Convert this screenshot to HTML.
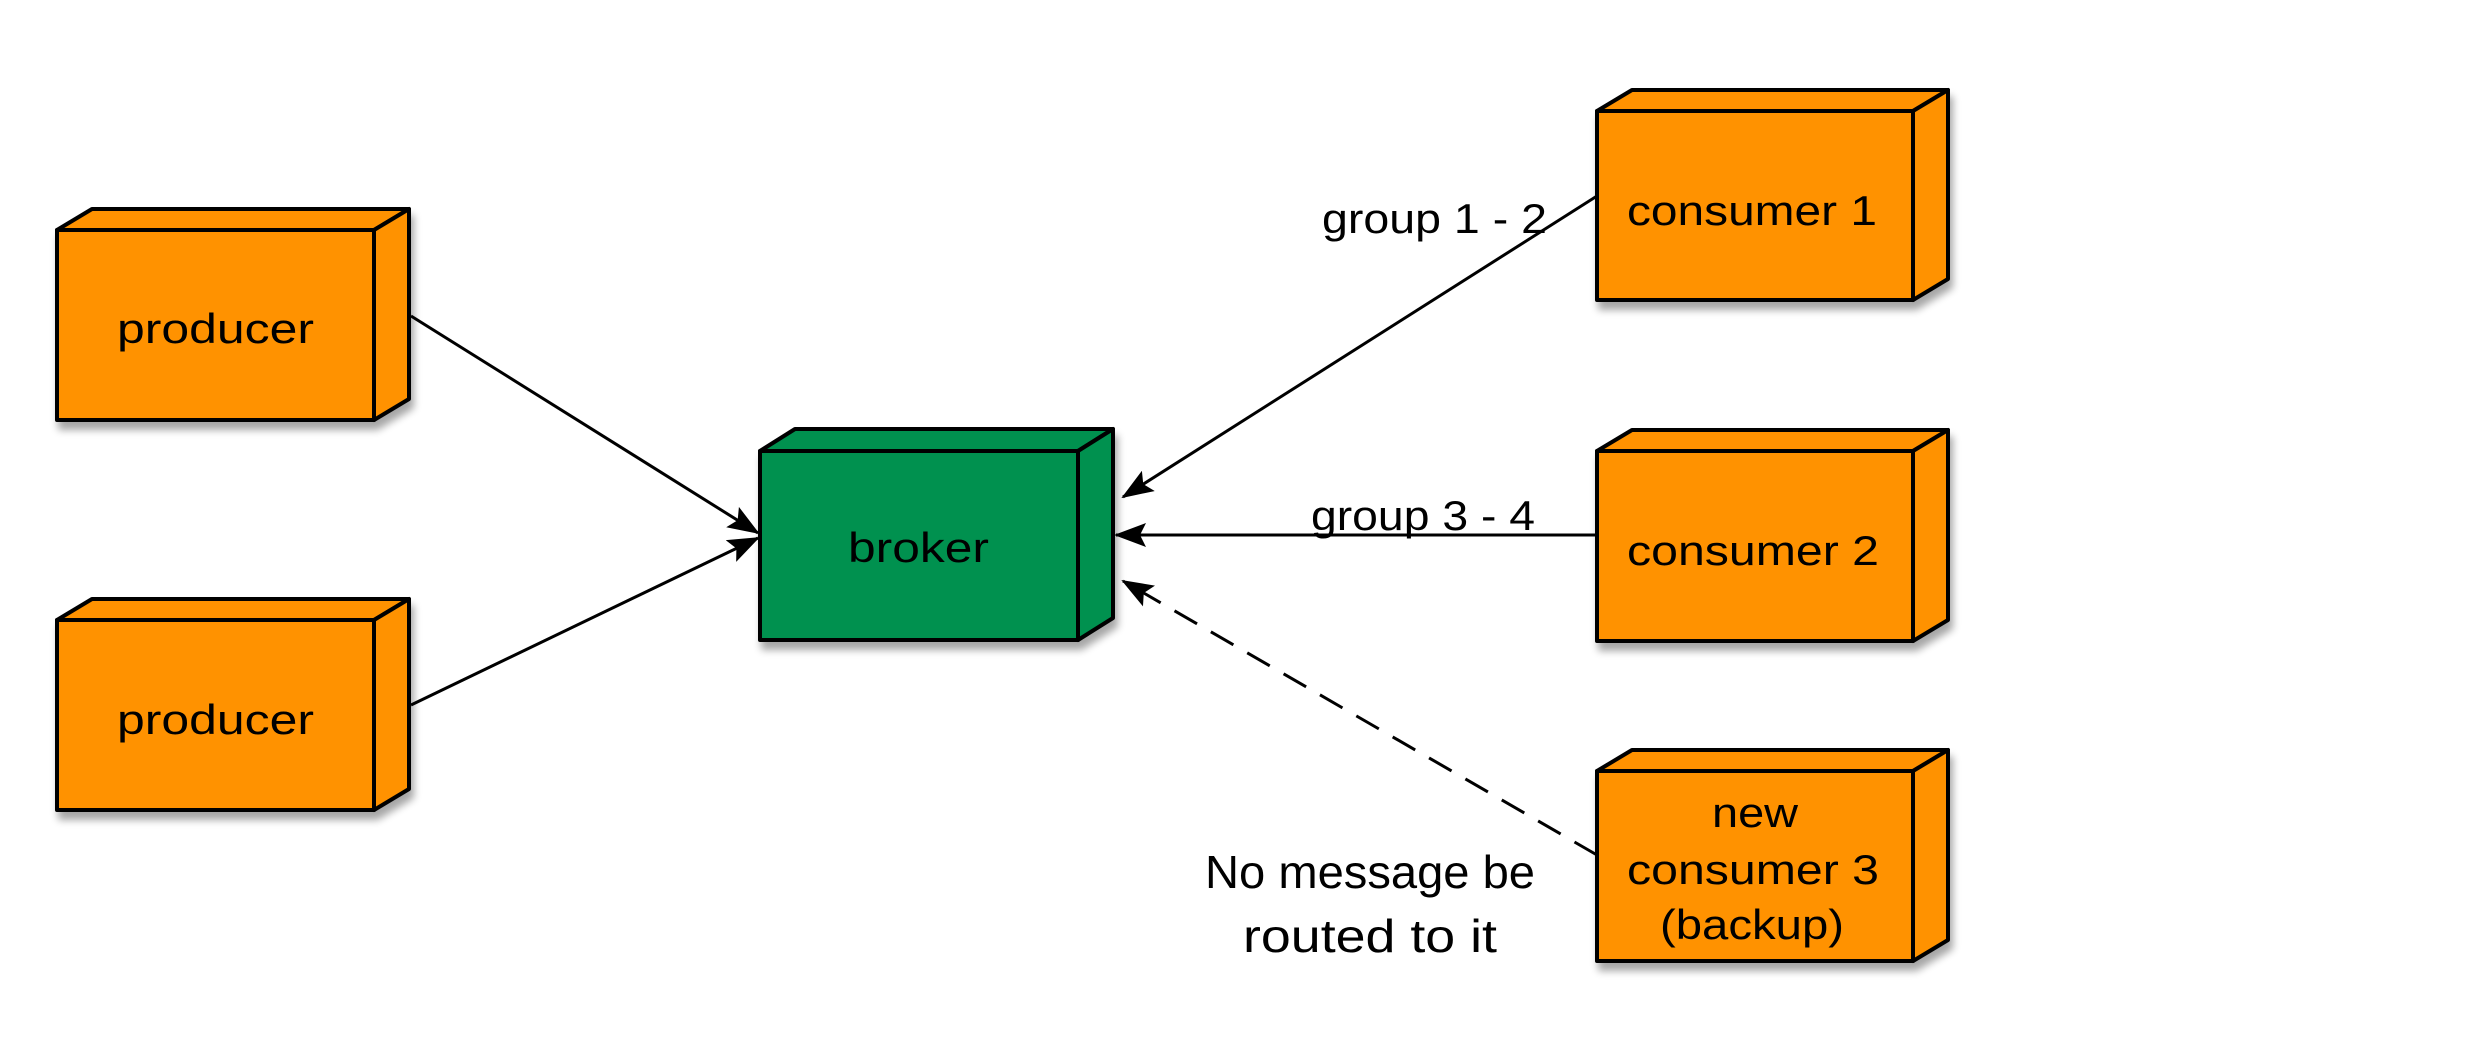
<!DOCTYPE html>
<html><head><meta charset="utf-8"><style>
html,body{margin:0;padding:0;background:#fff;}
svg{display:block;}
text{font-family:"Liberation Sans",sans-serif;fill:#000;}
</style></head><body>
<svg width="2469" height="1058" viewBox="0 0 2469 1058" xmlns="http://www.w3.org/2000/svg">
<defs>
<filter id="sh" x="-10%" y="-10%" width="130%" height="130%">
<feGaussianBlur in="SourceAlpha" stdDeviation="4"/>
<feOffset dx="3" dy="8" result="b"/>
<feComponentTransfer><feFuncA type="linear" slope="0.35"/></feComponentTransfer>
<feMerge><feMergeNode/><feMergeNode in="SourceGraphic"/></feMerge>
</filter>
<marker id="ah" markerWidth="32" markerHeight="24" refX="30" refY="12" orient="auto" markerUnits="userSpaceOnUse">
<path d="M0,0 L32,12 L0,24 L6,12 Z" fill="#000"/>
</marker>
</defs>

<g stroke="#000" stroke-width="4" stroke-linejoin="round">
<g filter="url(#sh)" fill="#FF9200">
<path d="M57,230 L92,209 L409,209 L374,230 Z"/>
<path d="M374,230 L409,209 L409,399 L374,420 Z"/>
<rect x="57" y="230" width="317" height="190"/>
</g>
<g filter="url(#sh)" fill="#FF9200">
<path d="M57,620 L92,599 L409,599 L374,620 Z"/>
<path d="M374,620 L409,599 L409,789 L374,810 Z"/>
<rect x="57" y="620" width="317" height="190"/>
</g>
<g filter="url(#sh)" fill="#009150">
<path d="M760,451 L795,429 L1113,429 L1078,451 Z"/>
<path d="M1078,451 L1113,429 L1113,618 L1078,640 Z"/>
<rect x="760" y="451" width="318" height="189"/>
</g>
<g filter="url(#sh)" fill="#FF9200">
<path d="M1597,111 L1632,90 L1948,90 L1913,111 Z"/>
<path d="M1913,111 L1948,90 L1948,279 L1913,300 Z"/>
<rect x="1597" y="111" width="316" height="189"/>
</g>
<g filter="url(#sh)" fill="#FF9200">
<path d="M1597,451 L1632,430 L1948,430 L1913,451 Z"/>
<path d="M1913,451 L1948,430 L1948,620 L1913,641 Z"/>
<rect x="1597" y="451" width="316" height="190"/>
</g>
<g filter="url(#sh)" fill="#FF9200">
<path d="M1597,771 L1632,750 L1948,750 L1913,771 Z"/>
<path d="M1913,771 L1948,750 L1948,940 L1913,961 Z"/>
<rect x="1597" y="771" width="316" height="190"/>
</g>
</g>

<g stroke="#000" stroke-width="3" fill="none">
<line x1="411" y1="316" x2="758" y2="533" marker-end="url(#ah)"/>
<line x1="411" y1="705" x2="758" y2="538" marker-end="url(#ah)"/>
<line x1="1597" y1="196" x2="1123" y2="497" marker-end="url(#ah)"/>
<line x1="1597" y1="535" x2="1116" y2="535" marker-end="url(#ah)"/>
<line x1="1597" y1="855" x2="1123" y2="581" stroke-dasharray="26,16" marker-end="url(#ah)"/>
</g>

<g font-size="42">
<text x="117" y="343" textLength="197" lengthAdjust="spacingAndGlyphs">producer</text>
<text x="117" y="734" textLength="197" lengthAdjust="spacingAndGlyphs">producer</text>
<text x="848" y="562" textLength="141" lengthAdjust="spacingAndGlyphs">broker</text>
<text x="1627" y="225" textLength="250" lengthAdjust="spacingAndGlyphs">consumer 1</text>
<text x="1627" y="565" textLength="252" lengthAdjust="spacingAndGlyphs">consumer 2</text>
<text x="1712" y="827" textLength="86" lengthAdjust="spacingAndGlyphs">new</text>
<text x="1627" y="884" textLength="252" lengthAdjust="spacingAndGlyphs">consumer 3</text>
<text x="1660" y="939" textLength="184" lengthAdjust="spacingAndGlyphs">(backup)</text>
<text x="1322" y="233" textLength="225" lengthAdjust="spacingAndGlyphs">group 1 - 2</text>
<text x="1311" y="530" textLength="224" lengthAdjust="spacingAndGlyphs">group 3 - 4</text>
</g>
<g font-size="46">
<text x="1205" y="888" textLength="330" lengthAdjust="spacingAndGlyphs">No message be</text>
<text x="1243" y="952" textLength="254" lengthAdjust="spacingAndGlyphs">routed to it</text>
</g>
</svg>
</body></html>
